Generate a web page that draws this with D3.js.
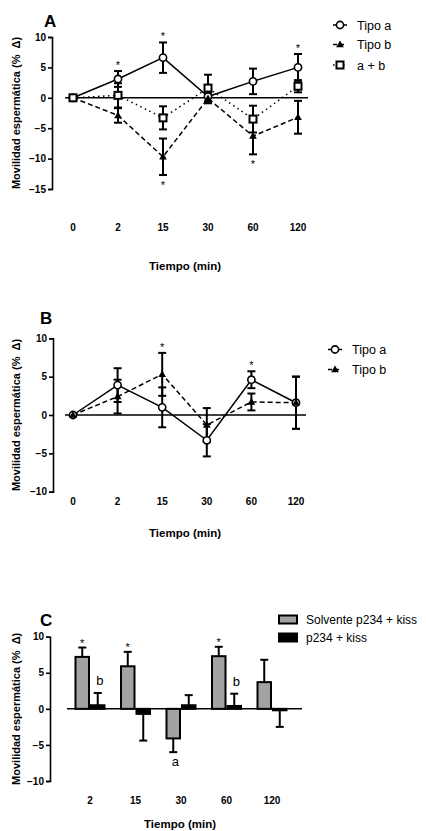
<!DOCTYPE html>
<html><head><meta charset="utf-8">
<script src="https://cdn.jsdelivr.net/npm/d3@7"></script>
<style>
body{margin:0;background:#fff;}
text{font-family:"Liberation Sans",Arial,sans-serif;fill:#000;}
</style></head>
<body><svg id="c" width="426" height="831"></svg>
<script>
// ---------- DATA ----------
const timesAB = ["0","2","15","30","60","120"];
const yTicksA = [10,5,0,-5,-10,-15];
const yTicksB = [10,5,0,-5,-10];
const yTicksC = [10,5,0,-5,-10];

// Panel A
const A_tipoA = [0,3.1,6.6,0.2,2.7,5.0];
const A_tipoA_err = [0,1.3,2.5,0.8,2.1,2.2];
const A_tipoB = [0,-2.9,-9.7,-0.1,-6.3,-3.2];
const A_tipoB_err = [0,1.2,3.0,0.8,3.0,2.7];
const A_ab = [0,0.4,-3.3,1.6,-3.5,1.9];
const A_ab_err = [0,2.0,1.9,2.2,2.2,1.0];
const A_stars = [ {series:"Tipo a",t:"2",dir:1},{series:"Tipo a",t:"15",dir:1},{series:"Tipo a",t:"120",dir:1},
                  {series:"Tipo b",t:"15",dir:-1},{series:"Tipo b",t:"60",dir:-1} ];

// Panel B
const B_tipoA = [0,3.9,1.0,-3.3,4.6,1.6];
const B_tipoA_err = [0,2.2,2.6,2.1,1.1,3.4];
const B_tipoB = [0,2.4,5.3,-1.3,1.7,1.6];
const B_tipoB_err = [0,2.2,2.8,2.2,1.1,3.4];
const B_stars = [ {series:"Tipo b",t:"15",dir:1},{series:"Tipo a",t:"60",dir:1} ];

// Panel C
const catsC = ["2","15","30","60","120"];
const C_solv = [7.2,5.9,-4.1,7.3,3.7];
const C_solv_err = [1.3,2.0,1.9,1.3,3.1];
const C_p234 = [0.5,-0.7,0.5,0.4,-0.2];
const C_p234_err = [1.7,3.7,1.4,1.7,2.3];
const C_marks = [ {s:0,c:"2",txt:"*"},{s:0,c:"15",txt:"*"},{s:0,c:"60",txt:"*"},
                  {s:1,c:"2",txt:"b"},{s:1,c:"60",txt:"b"},{s:0,c:"30",txt:"a"} ];

const yLabel = "Movilidad espermática (%\u00A0\u00A0Δ)";
const xLabel = "Tiempo (min)";

// ---------- DRAW ----------
const svg = d3.select("#c");

function yAxis(g, y, ticks, x0){
  const ax = g.append("g").attr("transform",`translate(${x0},0)`)
    .call(d3.axisLeft(y).tickValues(ticks).tickSize(4).tickPadding(2).tickFormat(d3.format("d")));
  ax.select(".domain").attr("stroke","#000").attr("stroke-width",1.6);
  ax.selectAll(".tick line").attr("stroke","#000").attr("stroke-width",1.6);
  ax.selectAll(".tick text").attr("font-size",10).attr("font-weight","bold").attr("fill","#000")
    .attr("font-family","'Liberation Sans',Arial,sans-serif");
}

function commonLabels(panel, letter, lx, ly, yTop, yBot, xMid, tickY, titleY){
  svg.append("text").attr("x",lx).attr("y",ly).attr("font-size",17).attr("font-weight","bold").attr("fill","#000").text(letter);
  svg.append("text").attr("transform",`translate(20,${(yTop+yBot)/2}) rotate(-90)`)
    .attr("text-anchor","middle").attr("font-size",11).attr("font-weight","bold").attr("fill","#000").text(yLabel);
  svg.append("text").attr("x",xMid).attr("y",titleY).attr("text-anchor","middle")
    .attr("font-size",11.5).attr("font-weight","bold").attr("fill","#000").text(xLabel);
}

function marker(g, type, cx, cy){
  if(type==="circle"){
    g.append("circle").attr("cx",cx).attr("cy",cy).attr("r",3.6).attr("fill","#fff").attr("stroke","#000").attr("stroke-width",1.6);
  } else if(type==="tri"){
    g.append("path").attr("d",d3.symbol(d3.symbolTriangle,26)()).attr("transform",`translate(${cx},${cy+0.5})`).attr("fill","#000");
  } else {
    g.append("rect").attr("x",cx-3.5).attr("y",cy-3.5).attr("width",7).attr("height",7)
      .attr("fill","#fff").attr("stroke","#000").attr("stroke-width",2);
  }
}

function linePanel(cfg){
  const x = d3.scalePoint().domain(timesAB).range(cfg.xr);
  const y = d3.scaleLinear().domain(cfg.yd).range(cfg.yr);
  const g = svg.append("g");
  yAxis(g, y, cfg.ticks, cfg.axisX);
  g.append("line").attr("x1",x("0")-8).attr("x2",x("120")+10).attr("y1",y(0)).attr("y2",y(0))
    .attr("stroke","#000").attr("stroke-width",1.5);
  g.selectAll(".xt").data(timesAB).enter().append("text")
    .attr("x",d=>x(d)).attr("y",cfg.tickY).attr("text-anchor","middle")
    .attr("font-size",10).attr("font-weight","bold").attr("fill","#000").text(d=>d);
  const line = d3.line().x((d,i)=>x(timesAB[i])).y(d=>y(d));
  cfg.series.forEach(s=>{
    g.append("path").attr("d",line(s.v)).attr("fill","none").attr("stroke","#000")
      .attr("stroke-width",1.5).attr("stroke-dasharray",s.dash);
  });
  cfg.series.forEach(s=>{
    s.v.forEach((v,i)=>{
      const e=s.e[i]; if(!e) return;
      const cx=x(timesAB[i]);
      g.append("line").attr("x1",cx).attr("x2",cx).attr("y1",y(v+e)).attr("y2",y(v-e)).attr("stroke","#000").attr("stroke-width",2);
      [v+e,v-e].forEach(t=>g.append("line").attr("x1",cx-4).attr("x2",cx+4).attr("y1",y(t)).attr("y2",y(t)).attr("stroke","#000").attr("stroke-width",2));
    });
  });
  cfg.series.forEach(s=>{
    s.v.forEach((v,i)=>marker(g,s.m,x(timesAB[i]),y(v)));
  });
  cfg.stars.forEach(st=>{
    const s = cfg.series.find(q=>q.name===st.series);
    const i = timesAB.indexOf(st.t);
    const yy = st.dir>0 ? y(s.v[i]+s.e[i])-8 : y(s.v[i]-s.e[i])+8;
    g.append("text").attr("x",x(st.t)).attr("y",yy+6).attr("text-anchor","middle")
      .attr("font-size",11).attr("fill","#333").text("*");
  });
  cfg.series.forEach((s,k)=>{
    const ly = cfg.legY[k];
    g.append("line").attr("x1",cfg.legX).attr("x2",cfg.legX+14).attr("y1",ly).attr("y2",ly)
      .attr("stroke","#000").attr("stroke-width",1.5).attr("stroke-dasharray",s.legDash);
    marker(g,s.m,cfg.legX+7,ly);
    g.append("text").attr("x",cfg.legX+24).attr("y",ly+4.5).attr("font-size",12.5).attr("fill","#000").text(s.name);
  });
  commonLabels(g, cfg.letter, cfg.letterX, cfg.letterY, cfg.yr[1], cfg.yr[0], 185, cfg.tickY, cfg.titleY);
}

linePanel({
  letter:"A", letterX:44, letterY:27,
  xr:[73,298], yd:[-15,10], yr:[189,37], ticks:yTicksA, axisX:52,
  tickY:231, titleY:270,
  series:[
    {name:"Tipo a", v:A_tipoA, e:A_tipoA_err, m:"circle", dash:null, legDash:null},
    {name:"Tipo b", v:A_tipoB, e:A_tipoB_err, m:"tri", dash:"5,3", legDash:"4,3"},
    {name:"a + b", v:A_ab, e:A_ab_err, m:"square", dash:"1.5,3.5", legDash:"1.5,3.5"}
  ],
  stars:A_stars, legX:333, legY:[25,44.5,65]
});

linePanel({
  letter:"B", letterX:40, letterY:324,
  xr:[73,296], yd:[-10,10], yr:[491.7,338.3], ticks:yTicksB, axisX:53,
  tickY:505, titleY:537,
  series:[
    {name:"Tipo a", v:B_tipoA, e:B_tipoA_err, m:"circle", dash:null, legDash:null},
    {name:"Tipo b", v:B_tipoB, e:B_tipoB_err, m:"tri", dash:"5,3", legDash:"4,3"}
  ],
  stars:B_stars, legX:328, legY:[349.5,369.5]
});

(function(){
  const x = d3.scaleBand().domain(catsC).range([67.25,294.75]).padding(0);
  const y = d3.scaleLinear().domain([-10,10]).range([781,636.7]);
  const g = svg.append("g");
  yAxis(g, y, yTicksC, 50);
  const bw = 15.5;
  const seriesC = [
    {v:C_solv, e:C_solv_err, fill:"#a3a3a6", off:-bw},
    {v:C_p234, e:C_p234_err, fill:"#000", off:0}
  ];
  seriesC.forEach(s=>{
    s.v.forEach((v,i)=>{
      const cx = x(catsC[i])+x.bandwidth()/2;
      const bx = cx+s.off;
      const e=s.e[i];
      const tip = v>=0 ? v+e : v-e;
      g.append("line").attr("x1",bx+bw/2).attr("x2",bx+bw/2).attr("y1",y(v)).attr("y2",y(tip)).attr("stroke","#000").attr("stroke-width",2);
      g.append("line").attr("x1",bx+bw/2-4).attr("x2",bx+bw/2+4).attr("y1",y(tip)).attr("y2",y(tip)).attr("stroke","#000").attr("stroke-width",2);
    });
  });
  seriesC.forEach(s=>{
    s.v.forEach((v,i)=>{
      const cx = x(catsC[i])+x.bandwidth()/2;
      const bx = cx+s.off;
      g.append("rect").attr("x",bx+1).attr("width",bw-2)
        .attr("y",Math.min(y(v),y(0))).attr("height",Math.max(1,Math.abs(y(v)-y(0))))
        .attr("fill",s.fill).attr("stroke","#000").attr("stroke-width",2);
    });
  });
  g.append("line").attr("x1",67).attr("x2",302).attr("y1",y(0)).attr("y2",y(0)).attr("stroke","#000").attr("stroke-width",1.5);
  g.selectAll(".xt").data(catsC).enter().append("text")
    .attr("x",d=>x(d)+x.bandwidth()/2).attr("y",804).attr("text-anchor","middle")
    .attr("font-size",10).attr("font-weight","bold").attr("fill","#000").text(d=>d);
  C_marks.forEach(m=>{
    const s = seriesC[m.s]; const i = catsC.indexOf(m.c);
    const v=s.v[i], e=s.e[i];
    const cx = x(m.c)+x.bandwidth()/2 + s.off + bw/2;
    if(m.txt==="*"){
      g.append("text").attr("x",cx).attr("y",y(v+e)-7+6).attr("text-anchor","middle").attr("font-size",11).attr("fill","#333").text("*");
    } else if(m.txt==="b"){
      g.append("text").attr("x",cx+2).attr("y",y(v+e)-8).attr("text-anchor","middle").attr("font-size",13).attr("fill","#000").text("b");
    } else {
      g.append("text").attr("x",cx+2).attr("y",y(v-e)+14).attr("text-anchor","middle").attr("font-size",13).attr("fill","#000").text("a");
    }
  });
  const legNames = ["Solvente p234 + kiss","p234 + kiss"];
  legNames.forEach((n,k)=>{
    const ly = [619.5,637.5][k];
    g.append("rect").attr("x",279).attr("y",ly-4).attr("width",18).attr("height",8)
      .attr("fill",seriesC[k].fill).attr("stroke","#000").attr("stroke-width",2);
    g.append("text").attr("x",306).attr("y",ly+4.3).attr("font-size",12).attr("fill","#000").text(n);
  });
  commonLabels(g,"C",40,626,636.7,781,180,804,828);
})();
</script></body></html>
